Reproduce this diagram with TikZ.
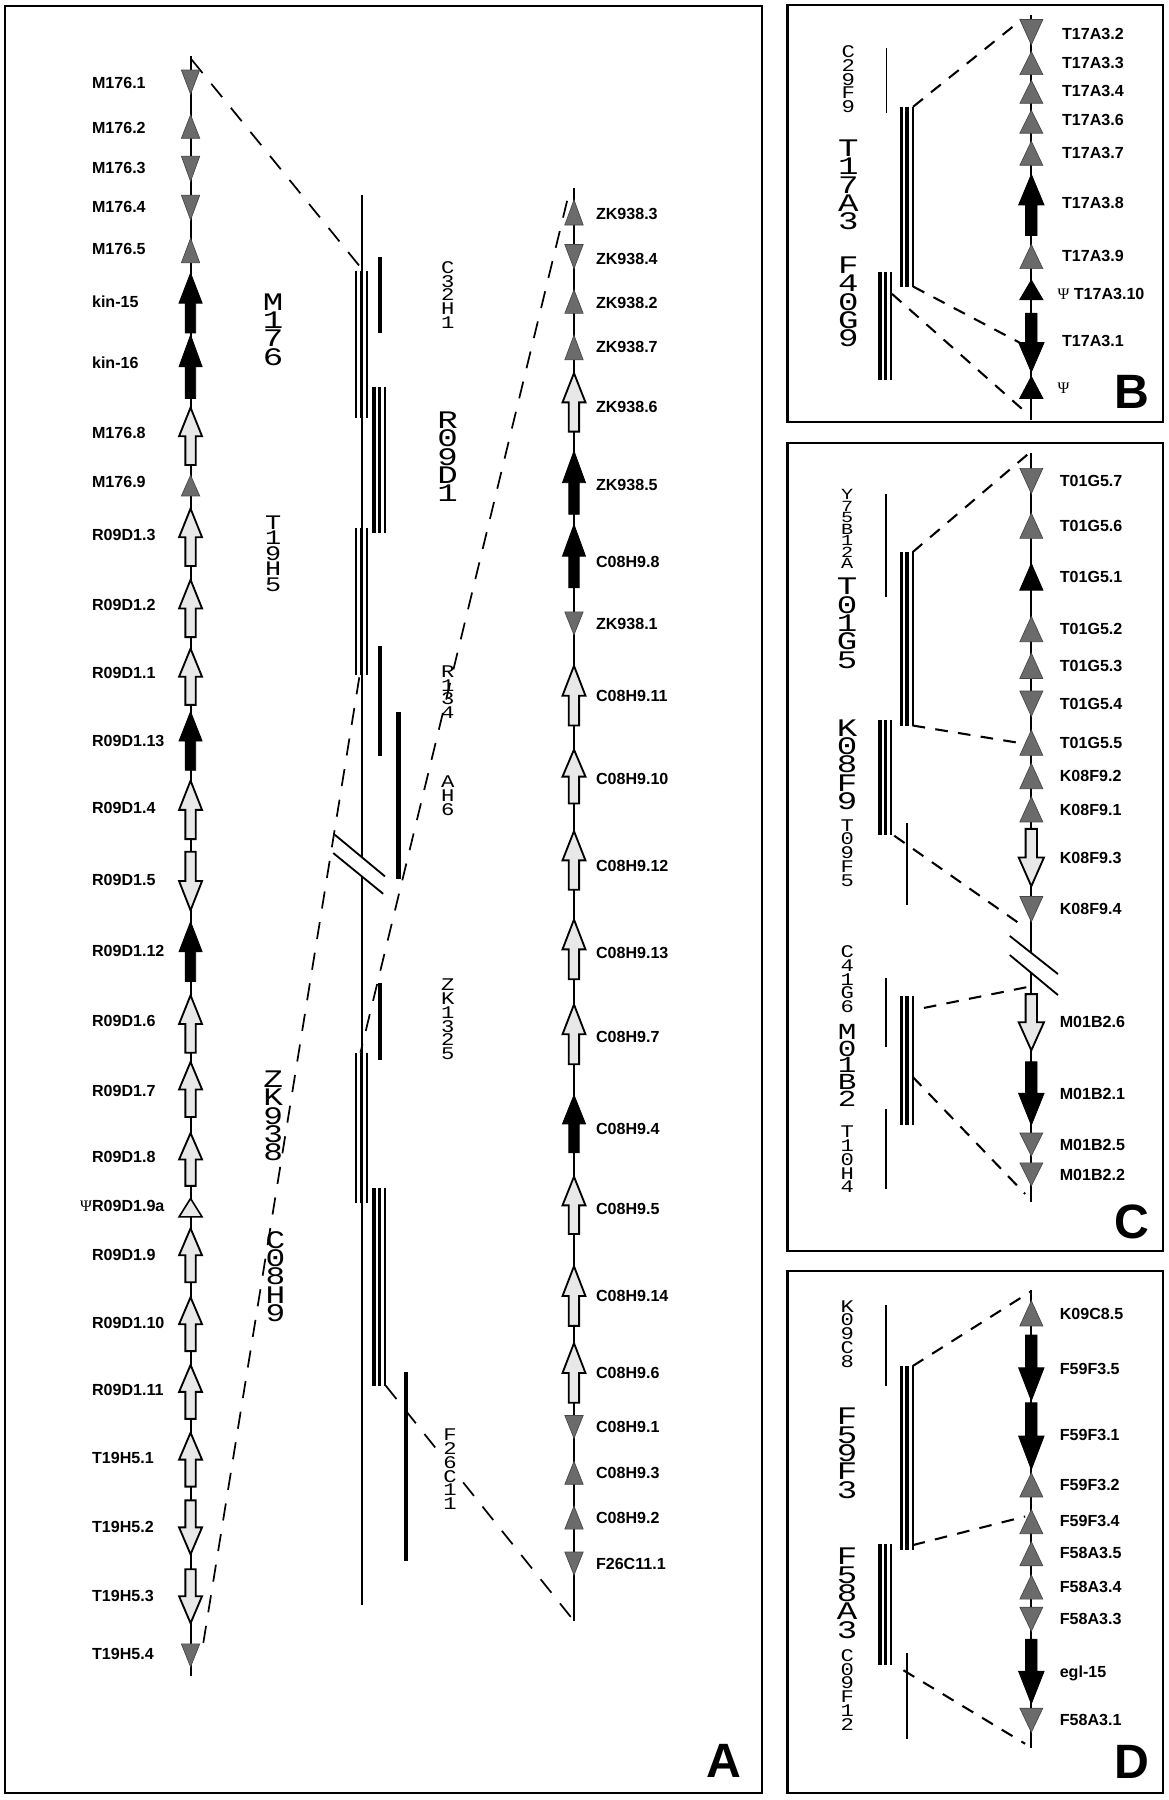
\documentclass[tikz,border=0pt]{standalone}
\usepackage{graphicx}
\usepackage{fontspec}
\setmainfont{Liberation Sans}
\newfontfamily\clonefont{Liberation Mono}
\newfontfamily\psifont{Liberation Serif}
% block arrow: x, tip y, tail y, half width, style
\newcommand\GArr[5]{\path[#5] (#1,#2) -- ({#1+#4},{#2+0.5*(#3-#2)}) -- ({#1+0.45*#4},{#2+0.5*(#3-#2)}) -- ({#1+0.45*#4},#3) -- ({#1-0.45*#4},#3) -- ({#1-0.45*#4},{#2+0.5*(#3-#2)}) -- ({#1-#4},{#2+0.5*(#3-#2)}) -- cycle;}
% triangle: x, tip y, base y, half width, style
\newcommand\GTri[5]{\path[#5] (#1,#2) -- ({#1+#4},#3) -- ({#1-#4},#3) -- cycle;}
% vertical stack of letters, stretched horizontally
\newcommand\Stk[2]{\scalebox{#1}[1]{\vbox{\halign{\hfil##\hfil\cr#2\cr}}}}
\begin{document}
\begin{tikzpicture}[x=1pt,y=-1pt,
  ax/.style={line width=1.8},
  thinb/.style={line width=1.6},
  midb/.style={line width=3.0},
  thickb/.style={line width=3.8},
  connA/.style={dash pattern=on 15pt off 12pt, line width=1.5},
  connB/.style={dash pattern=on 11pt off 9pt, line width=1.8},
  grayg/.style={fill=black!58, draw=black!72, line width=0.6},
  lightg/.style={fill=black!9, draw=black, line width=1.6},
  lightt/.style={fill=black!9, draw=black, line width=1.4},
  blackg/.style={fill=black, draw=black, line width=0.8},
  frm/.style={draw, line width=1.8},
  gl/.style={anchor=west, inner sep=0pt, font=\bfseries\fontsize{14}{16}\selectfont, text height=10pt, text depth=0pt},
  clbig/.style={inner sep=0pt, font=\clonefont\fontsize{22}{16}\selectfont},
  clmid/.style={inner sep=0pt, font=\clonefont\fontsize{20}{14.5}\selectfont},
  clmed/.style={inner sep=0pt, font=\clonefont\fontsize{18}{13.5}\selectfont},
  clsm/.style={inner sep=0pt, font=\clonefont\fontsize{15.5}{12}\selectfont},
  cltiny/.style={inner sep=0pt, font=\clonefont\fontsize{13.5}{10}\selectfont},
  panel/.style={inner sep=0pt, font=\bfseries\fontsize{42}{42}\selectfont}
]
\useasboundingbox (0,0) rectangle (1018,1568);
\fill[white] (0,0) rectangle (1018,1568);

% ================= frames =================
\draw[frm] (4,5) rectangle (664,1562);
\draw[frm] (686,4) rectangle (1013,368);
\draw[frm] (686,386) rectangle (1013,1090);
\draw[frm] (686,1107) rectangle (1013,1562);
\node[panel] (pA) at (631,1534) {A};
\node[panel] (pB) at (986,341) {B};
\node[panel] (pC) at (986,1064) {C};
\node[panel] (pD) at (986,1535) {D};

% ================= PANEL A =================
\draw[ax] (166,49) -- (166,1460);
\draw[ax] (500,164) -- (500,1412);
\draw[ax] (315,170) -- (315,746.5);
\draw[ax] (315,763.3) -- (315,1398);
\draw[line width=1.6] (291.7,727.2) -- (335.3,763.4);
\draw[line width=1.6] (290.3,743.1) -- (333.8,778.6);

% clone bars
\draw[thinb] (310,235.7) -- (310,363.7); \draw[midb] (315,235.7) -- (315,363.7); \draw[thinb] (320,235.7) -- (320,363.7);
\draw[thickb] (331,224) -- (331,290);
\draw[midb] (325.7,336.7) -- (325.7,464.4); \draw[midb] (330.5,336.7) -- (330.5,464.4); \draw[thinb] (335.5,336.7) -- (335.5,464.4);
\draw[thinb] (310,460) -- (310,588); \draw[midb] (315,460) -- (315,588); \draw[thinb] (320,460) -- (320,588);
\draw[thickb] (331,562.6) -- (331,658.4);
\draw[thickb] (347,620.6) -- (347,765.8);
\draw[thickb] (331,856) -- (331,923);
\draw[thinb] (310,917) -- (310,1048); \draw[midb] (315,917) -- (315,1048); \draw[thinb] (320,917) -- (320,1048);
\draw[midb] (325.7,1035) -- (325.7,1207); \draw[midb] (330.5,1035) -- (330.5,1207); \draw[thinb] (335.5,1035) -- (335.5,1207);
\draw[thickb] (353.6,1195) -- (353.6,1360);

% connectors
\coordinate (aTop) at (167,52);
\coordinate (bM176top) at (315,234);
\coordinate (zk3) at (494,175);
\coordinate (bZKtop) at (314,917);
\coordinate (bT19bot) at (313,590);
\coordinate (t19tip) at (176,1438);
\coordinate (bC08bot) at (336,1207);
\coordinate (rBot) at (500,1412);
\draw[connA] (aTop) -- (bM176top);
\draw[connA] (zk3) -- (bZKtop);
\draw[connA] (bT19bot) -- (t19tip);
\draw[connA] (bC08bot) -- (rBot);

% clone names
\node[clbig] (cM176) at (238,287) {\Stk{1.35}{M\cr 1\cr 7\cr 6}};
\node[clsm] (cC32H1) at (390,257) {\Stk{1.25}{C\cr 3\cr 2\cr H\cr 1}};
\node[clbig] (cR09D1) at (390,398) {\Stk{1.35}{R\cr 0\cr 9\cr D\cr 1}};
\node[clmed] (cT19H5) at (238,482) {\Stk{1.3}{T\cr 1\cr 9\cr H\cr 5}};
\node[clsm] (cR134) at (390,603) {\Stk{1.25}{R\cr 1\cr 3\cr 4}};
\node[clsm] (cAH6) at (390,693) {\Stk{1.25}{A\cr H\cr 6}};
\node[clsm] (cZK1325) at (390,888) {\Stk{1.25}{Z\cr K\cr 1\cr 3\cr 2\cr 5}};
\node[clbig] (cZK938) at (238,972) {\Stk{1.3}{Z\cr K\cr 9\cr 3\cr 8}};
\node[clbig] (cC08H9) at (240,1112) {\Stk{1.3}{C\cr 0\cr 8\cr H\cr 9}};
\node[clsm, fill=white] (cF26C11) at (392,1280) {\Stk{1.25}{F\cr 2\cr 6\cr C\cr 1\cr 1}};

% left track glyphs
\GTri{166}{82}{61}{8}{grayg}
\GTri{166}{100}{120.5}{8}{grayg}
\GTri{166}{158}{136}{8}{grayg}
\GTri{166}{191.6}{170}{8}{grayg}
\GTri{166}{207.5}{229}{8}{grayg}
\GArr{166}{238}{290}{10}{blackg}
\GArr{166}{292}{347}{10}{blackg}
\GArr{166}{355}{405}{10}{lightg}
\GTri{166}{414}{432}{8}{grayg}
\GArr{166}{443}{493}{10}{lightg}
\GArr{166}{505}{555}{10}{lightg}
\GArr{166}{565}{614}{10}{lightg}
\GArr{166}{620}{671}{10}{blackg}
\GArr{166}{680}{731}{10}{lightg}
\GArr{166}{793}{742}{10}{lightg}
\GArr{166}{803}{855}{10}{blackg}
\GArr{166}{867}{917}{10}{lightg}
\GArr{166}{925}{973}{10}{lightg}
\GArr{166}{987}{1033}{10}{lightg}
\GTri{166}{1044}{1060}{10}{lightt}
\GArr{166}{1070}{1117}{10}{lightg}
\GArr{166}{1130}{1177}{10}{lightg}
\GArr{166}{1189}{1236}{10}{lightg}
\GArr{166}{1248}{1295}{10}{lightg}
\GArr{166}{1354}{1307}{10}{lightg}
\GArr{166}{1414}{1367}{10}{lightg}
\GTri{166}{1452}{1432}{8}{grayg}

% left track labels
\node[gl] (lM1761) at (80,72) {M176.1};
\node[gl] (lM1762) at (80,111) {M176.2};
\node[gl] (lM1763) at (80,146) {M176.3};
\node[gl] (lM1764) at (80,180) {M176.4};
\node[gl] (lM1765) at (80,217) {M176.5};
\node[gl] (lkin15) at (80,263) {kin-15};
\node[gl] (lkin16) at (80,316) {kin-16};
\node[gl] (lM1768) at (80,377) {M176.8};
\node[gl] (lM1769) at (80,420) {M176.9};
\node[gl] (lR3) at (80,466) {R09D1.3};
\node[gl] (lR2) at (80,527) {R09D1.2};
\node[gl] (lR1) at (80,586) {R09D1.1};
\node[gl] (lR13) at (80,645) {R09D1.13};
\node[gl] (lR4) at (80,704) {R09D1.4};
\node[gl] (lR5) at (80,766) {R09D1.5};
\node[gl] (lR12) at (80,828) {R09D1.12};
\node[gl] (lR6) at (80,889) {R09D1.6};
\node[gl] (lR7) at (80,950) {R09D1.7};
\node[gl] (lR8) at (80,1008) {R09D1.8};
\node[gl] (lR9a) at (80,1050) {\llap{\psifont\mdseries Ψ}R09D1.9a};
\node[gl] (lR9) at (80,1093) {R09D1.9};
\node[gl] (lR10) at (80,1152) {R09D1.10};
\node[gl] (lR11) at (80,1211) {R09D1.11};
\node[gl] (lT1) at (80,1270) {T19H5.1};
\node[gl] (lT2) at (80,1330) {T19H5.2};
\node[gl] (lT3) at (80,1390) {T19H5.3};
\node[gl] (lT4) at (80,1441) {T19H5.4};

% right track glyphs
\GTri{500}{174}{196}{8}{grayg}
\GTri{500}{234}{213}{8}{grayg}
\GTri{500}{252.5}{273}{8}{grayg}
\GTri{500}{292}{313.5}{8}{grayg}
\GArr{500}{325}{376}{10}{lightg}
\GArr{500}{393}{448}{10}{blackg}
\GArr{500}{457}{512}{10}{blackg}
\GTri{500}{553}{533}{8}{grayg}
\GArr{500}{580}{632}{10}{lightg}
\GArr{500}{653}{700}{10}{lightg}
\GArr{500}{724}{775}{10}{lightg}
\GArr{500}{801}{853}{10}{lightg}
\GArr{500}{875}{927}{10}{lightg}
\GArr{500}{954}{1004}{10}{blackg}
\GArr{500}{1025}{1075}{10}{lightg}
\GArr{500}{1103}{1155}{10}{lightg}
\GArr{500}{1170}{1222}{10}{lightg}
\GTri{500}{1253}{1233}{8}{grayg}
\GTri{500}{1273}{1293}{8}{grayg}
\GTri{500}{1312}{1332}{8}{grayg}
\GTri{500}{1372}{1352}{8}{grayg}

% right track labels
\node[gl] (rZ3) at (519,186) {ZK938.3};
\node[gl] (rZ4) at (519,225) {ZK938.4};
\node[gl] (rZ2) at (519,264) {ZK938.2};
\node[gl] (rZ7) at (519,302) {ZK938.7};
\node[gl] (rZ6) at (519,354) {ZK938.6};
\node[gl] (rZ5) at (519,422) {ZK938.5};
\node[gl] (rC8) at (519,489) {C08H9.8};
\node[gl] (rZ1) at (519,543) {ZK938.1};
\node[gl] (rC11) at (519,606) {C08H9.11};
\node[gl] (rC10) at (519,678) {C08H9.10};
\node[gl] (rC12) at (519,754) {C08H9.12};
\node[gl] (rC13) at (519,830) {C08H9.13};
\node[gl] (rC7) at (519,903) {C08H9.7};
\node[gl] (rC4) at (519,983) {C08H9.4};
\node[gl] (rC5) at (519,1053) {C08H9.5};
\node[gl] (rC14) at (519,1129) {C08H9.14};
\node[gl] (rC6) at (519,1196) {C08H9.6};
\node[gl] (rC1) at (519,1243) {C08H9.1};
\node[gl] (rC3) at (519,1283) {C08H9.3};
\node[gl] (rC2) at (519,1322) {C08H9.2};
\node[gl] (rF1) at (519,1362) {F26C11.1};

% ================= PANEL B =================
\draw[ax] (898.4,13) -- (898.4,366);
\draw[thinb] (772.2,42) -- (772.2,98.7);
\draw[midb] (785.2,92.9) -- (785.2,249.6); \draw[midb] (790.1,92.9) -- (790.1,249.6); \draw[thinb] (795.4,92.9) -- (795.4,249.6);
\draw[midb] (766.4,236.6) -- (766.4,331); \draw[midb] (771.6,236.6) -- (771.6,331); \draw[thinb] (776.5,236.6) -- (776.5,331);
\node[clsm] (cC29F9) at (739,69) {\Stk{1.25}{C\cr 2\cr 9\cr F\cr 9}};
\node[clbig] (cT17A3) at (739,161) {\Stk{1.35}{T\cr 1\cr 7\cr A\cr 3}};
\node[clbig] (cF40G9) at (739,263) {\Stk{1.35}{F\cr 4\cr 0\cr G\cr 9}};
\coordinate (bT17top) at (795.4,93);
\coordinate (bTop) at (890,17);
\coordinate (bT17bot) at (795.4,249.6);
\coordinate (bT171) at (893,301);
\coordinate (bF40top) at (777,256);
\coordinate (bPsi) at (890,356);
\draw[connB] (bT17top) -- (bTop);
\draw[connB] (bT17bot) -- (bT171);
\draw[connB] (bF40top) -- (bPsi);
\GTri{898.4}{39}{17}{10}{grayg}
\GTri{898.4}{45}{65}{10}{grayg}
\GTri{898.4}{70}{90}{10}{grayg}
\GTri{898.4}{96}{116}{10}{grayg}
\GTri{898.4}{123}{144}{10}{grayg}
\GArr{898.4}{152}{205}{11}{blackg}
\GTri{898.4}{213}{234}{10}{grayg}
\GTri{898.4}{244}{261}{10}{blackg}
\GArr{898.4}{324}{273}{11}{blackg}
\GTri{898.4}{328}{347}{10}{blackg}
\node[gl] (bl2) at (925,29) {T17A3.2};
\node[gl] (bl3) at (925,55) {T17A3.3};
\node[gl] (bl4) at (925,79) {T17A3.4};
\node[gl] (bl6) at (925,104) {T17A3.6};
\node[gl] (bl7) at (925,133.5) {T17A3.7};
\node[gl] (bl8) at (925,177) {T17A3.8};
\node[gl] (bl9) at (925,223) {T17A3.9};
\node[gl] (bl10) at (921,256) {{\psifont\mdseries Ψ} T17A3.10};
\node[gl] (bl1) at (925,297) {T17A3.1};
\node[gl] (blpsi) at (921,338) {\psifont\mdseries Ψ};

% ================= PANEL C =================
\draw[ax] (898.4,395) -- (898.4,830);
\draw[ax] (898.4,847) -- (898.4,1047);
\draw[line width=1.6] (879.6,815.3) -- (921.6,848.5);
\draw[line width=1.6] (879.6,831.9) -- (921.6,866.8);
\draw[thinb] (772,430) -- (772,520);
\draw[midb] (785.2,481) -- (785.2,632); \draw[midb] (790.1,481) -- (790.1,632); \draw[thinb] (795.4,481) -- (795.4,632);
\draw[midb] (766.4,627) -- (766.4,727); \draw[midb] (771.6,627) -- (771.6,727); \draw[thinb] (776.5,627) -- (776.5,727);
\draw[thinb] (790,717) -- (790,788);
\draw[thinb] (772,852) -- (772,912);
\draw[midb] (785.2,868) -- (785.2,980); \draw[midb] (790.1,868) -- (790.1,980); \draw[thinb] (795.4,868) -- (795.4,980);
\draw[thinb] (772,966) -- (772,1036);
\node[cltiny] (cY75) at (738,461) {\Stk{1.3}{Y\cr 7\cr 5\cr B\cr 1\cr 2\cr A}};
\node[clbig] (cT01G5) at (738,543) {\Stk{1.35}{T\cr 0\cr 1\cr G\cr 5}};
\node[clbig] (cK08F9) at (738,666) {\Stk{1.35}{K\cr 0\cr 8\cr F\cr 9}};
\node[clsm] (cT09F5) at (738,743) {\Stk{1.25}{T\cr 0\cr 9\cr F\cr 5}};
\node[clsm] (cC41G6) at (738,853) {\Stk{1.25}{C\cr 4\cr 1\cr G\cr 6}};
\node[clmid] (cM01B2) at (738,928) {\Stk{1.35}{M\cr 0\cr 1\cr B\cr 2}};
\node[clsm] (cT10H4) at (738,1010) {\Stk{1.25}{T\cr 1\cr 0\cr H\cr 4}};
\coordinate (cT01top) at (795,481);
\coordinate (cAxTop) at (895,396);
\coordinate (cT01bot) at (795,632);
\coordinate (cG55) at (893,648);
\coordinate (cK08bot) at (779,728);
\coordinate (cK4) at (893,808);
\coordinate (cAxM1) at (894,860);
\coordinate (cM01a) at (795,880);
\coordinate (cM01b) at (795,938);
\coordinate (cAxBot) at (893,1040);
\draw[connB] (cT01top) -- (cAxTop);
\draw[connB] (cT01bot) -- (cG55);
\draw[connB] (cK08bot) -- (cK4);
\draw[connB] (cAxM1) -- (cM01a);
\draw[connB] (cM01b) -- (cAxBot);
\GTri{898.4}{430}{408}{10}{grayg}
\GTri{898.4}{447}{469}{10}{grayg}
\GTri{898.4}{491}{514}{10}{blackg}
\GTri{898.4}{537}{559}{10}{grayg}
\GTri{898.4}{569}{591}{10}{grayg}
\GTri{898.4}{624}{602}{10}{grayg}
\GTri{898.4}{636}{658}{10}{grayg}
\GTri{898.4}{665}{687}{10}{grayg}
\GTri{898.4}{694}{716}{10}{grayg}
\GArr{898.4}{772}{722}{11}{lightg}
\GTri{898.4}{803}{781}{10}{grayg}
\GArr{898.4}{915}{866}{11}{lightg}
\GArr{898.4}{980}{925}{11}{blackg}
\GTri{898.4}{1007}{987}{10}{grayg}
\GTri{898.4}{1033}{1013}{10}{grayg}
\node[gl] (cl7) at (923,419) {T01G5.7};
\node[gl] (cl6) at (923,458) {T01G5.6};
\node[gl] (cl1) at (923,502) {T01G5.1};
\node[gl] (cl2) at (923,548) {T01G5.2};
\node[gl] (cl3) at (923,580) {T01G5.3};
\node[gl] (cl4) at (923,613) {T01G5.4};
\node[gl] (cl5) at (923,647) {T01G5.5};
\node[gl] (ck2) at (923,676) {K08F9.2};
\node[gl] (ck1) at (923,705) {K08F9.1};
\node[gl] (ck3) at (923,747) {K08F9.3};
\node[gl] (ck4) at (923,792) {K08F9.4};
\node[gl] (cm6) at (923,890) {M01B2.6};
\node[gl] (cm1) at (923,953) {M01B2.1};
\node[gl] (cm5) at (923,997) {M01B2.5};
\node[gl] (cm2) at (923,1023) {M01B2.2};

% ================= PANEL D =================
\draw[ax] (898.4,1124) -- (898.4,1523);
\draw[thinb] (772,1137) -- (772,1207);
\draw[midb] (785.2,1190) -- (785.2,1350); \draw[midb] (790.1,1190) -- (790.1,1350); \draw[thinb] (795.4,1190) -- (795.4,1350);
\draw[midb] (766.4,1345) -- (766.4,1450); \draw[midb] (771.6,1345) -- (771.6,1450); \draw[thinb] (776.5,1345) -- (776.5,1450);
\draw[thinb] (790,1440) -- (790,1515);
\node[clsm] (cK09C8) at (738,1162) {\Stk{1.25}{K\cr 0\cr 9\cr C\cr 8}};
\node[clbig] (cF59F3) at (738,1266) {\Stk{1.35}{F\cr 5\cr 9\cr F\cr 3}};
\node[clbig] (cF58A3) at (738,1388) {\Stk{1.35}{F\cr 5\cr 8\cr A\cr 3}};
\node[clsm] (cC09F12) at (738,1472) {\Stk{1.25}{C\cr 0\cr 9\cr F\cr 1\cr 2}};
\coordinate (dF59top) at (795,1190);
\coordinate (dAxTop) at (898,1125);
\coordinate (dF59bot) at (795,1346);
\coordinate (dF34) at (893,1321);
\coordinate (dF58bot) at (787,1455);
\coordinate (dAxBot) at (893,1519);
\draw[connB] (dF59top) -- (dAxTop);
\draw[connB] (dF59bot) -- (dF34);
\draw[connB] (dF58bot) -- (dAxBot);
\GTri{898.4}{1133}{1155}{10}{grayg}
\GArr{898.4}{1220}{1163}{11}{blackg}
\GArr{898.4}{1280}{1222}{11}{blackg}
\GTri{898.4}{1283}{1304}{10}{grayg}
\GTri{898.4}{1315}{1336}{10}{grayg}
\GTri{898.4}{1343}{1364}{10}{grayg}
\GTri{898.4}{1372}{1393}{10}{grayg}
\GTri{898.4}{1421}{1400}{10}{grayg}
\GArr{898.4}{1484}{1428}{11}{blackg}
\GTri{898.4}{1509}{1488}{10}{grayg}
\node[gl] (dk5) at (923,1144) {K09C8.5};
\node[gl] (df5) at (923,1192) {F59F3.5};
\node[gl] (df1) at (923,1250) {F59F3.1};
\node[gl] (df2) at (923,1293) {F59F3.2};
\node[gl] (df4) at (923,1325) {F59F3.4};
\node[gl] (da5) at (923,1353) {F58A3.5};
\node[gl] (da4) at (923,1382) {F58A3.4};
\node[gl] (da3) at (923,1410) {F58A3.3};
\node[gl] (degl) at (923,1456) {egl-15};
\node[gl] (da1) at (923,1498) {F58A3.1};
\end{tikzpicture}
\end{document}
